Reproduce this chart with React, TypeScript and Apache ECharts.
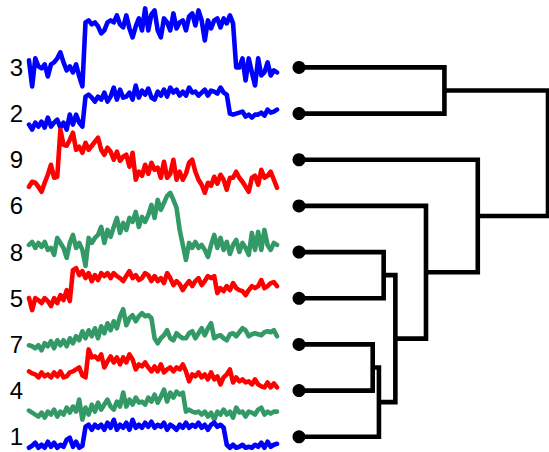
import React, { useEffect, useRef } from "react";
import * as echarts from "echarts";

// Row labels, top to bottom (also dendrogram leaf order)
const LABELS = ["3", "2", "9", "6", "8", "5", "7", "4", "1"];
const SERIES_COLORS = ["#0000ff", "#0000ff", "#ff0000", "#339966", "#ff0000", "#339966", "#ff0000", "#339966", "#0000ff"];

// Signal values (relative to each row's baseline), one per time step
const S3 = [7, -19, 9, 1, -1, 3, -9, 3, 5, 9, 15, 5, -3, 1, -5, 3, -9, -19, 45, 47, 43, 45, 41, 34, 37, 45, 47, 45, 52, 43, 40, 52, 39, 30, 41, 49, 37, 59, 37, 53, 57, 37, 30, 49, 45, 37, 54, 39, 45, 47, 37, 51, 54, 42, 57, 47, 27, 47, 39, 47, 49, 40, 49, 44, 52, 44, 0, 0, 9, -13, 9, -5, -18, 9, -8, -5, 5, -8, -3, -5];
const S2 = [-11, -16, -9, -13, -8, -14, -4, -13, -9, -6, -14, -9, -16, -1, -11, -1, -9, -13, 17, 19, 16, 12, 17, 14, 21, 12, 17, 26, 14, 24, 16, 17, 21, 14, 28, 16, 23, 19, 25, 16, 14, 22, 18, 24, 17, 26, 21, 24, 18, 22, 18, 26, 21, 22, 18, 21, 24, 18, 23, 22, 20, 26, 21, 19, 0, -1, 0, 1, 2, -3, -1, -4, -1, -1, 1, -2, 4, 1, 2, 4];
const S9 = [-27, -22, -23, -27, -32, -23, -15, -5, -18, -17, 30, 15, 14, 20, 27, 10, 13, 7, 17, 10, 14, 18, 22, 10, 5, 12, 8, 0, 8, -1, 3, 5, -7, 7, -20, -12, -16, -5, -14, -3, -10, -8, -18, -2, -18, -14, 0, -20, -12, -20, -14, -3, 0, -12, -20, -25, -33, -23, -26, -17, -24, -15, -20, -30, -18, -18, -12, -18, -22, -27, -32, -18, -16, -25, -10, -18, -16, -12, -20, -28];
const S6 = [-39, -36, -42, -37, -41, -36, -44, -42, -49, -32, -37, -42, -52, -37, -29, -42, -37, -44, -60, -32, -37, -32, -29, -21, -37, -24, -31, -21, -12, -27, -17, -24, -12, -16, -6, -21, -11, -16, -9, 1, -12, 6, -4, 3, 10, 13, 6, -2, -24, -39, -54, -37, -42, -36, -42, -39, -44, -51, -39, -29, -42, -32, -44, -36, -48, -39, -34, -46, -37, -42, -49, -27, -44, -26, -44, -24, -39, -44, -37, -39];
const S8 = [-46, -58, -46, -48, -51, -46, -49, -54, -46, -51, -43, -48, -38, -49, -18, -16, -23, -19, -26, -21, -29, -23, -28, -21, -24, -21, -26, -21, -24, -26, -29, -24, -19, -26, -23, -28, -26, -21, -23, -29, -24, -29, -26, -31, -21, -26, -33, -29, -32, -38, -33, -29, -34, -29, -26, -33, -29, -24, -26, -24, -41, -36, -39, -34, -38, -31, -36, -38, -39, -43, -38, -34, -36, -34, -28, -36, -34, -31, -30, -34];
const S5 = [-47, -48, -50, -47, -52, -45, -48, -43, -50, -42, -47, -42, -48, -40, -45, -38, -42, -33, -40, -32, -38, -30, -40, -28, -35, -25, -32, -23, -30, -18, -11, -27, -20, -17, -23, -18, -15, -18, -17, -20, -40, -45, -40, -37, -32, -40, -42, -35, -38, -40, -40, -35, -33, -40, -35, -30, -37, -30, -25, -40, -38, -37, -40, -42, -36, -35, -38, -34, -30, -32, -38, -36, -35, -36, -37, -34, -33, -34, -32, -38];
const S7 = [-27, -29, -30, -33, -28, -32, -30, -33, -28, -32, -27, -33, -32, -28, -27, -25, -23, -31, -33, -5, -13, -12, -15, -10, -23, -17, -12, -18, -13, -20, -13, -18, -10, -15, -25, -20, -22, -18, -23, -27, -22, -27, -20, -28, -25, -23, -27, -23, -25, -20, -27, -37, -30, -32, -28, -33, -30, -35, -28, -35, -32, -40, -33, -30, -25, -38, -33, -37, -35, -38, -37, -40, -35, -40, -42, -43, -38, -43, -39, -43];
const S4 = [-20, -22, -24, -26, -22, -27, -21, -24, -19, -26, -21, -24, -17, -22, -16, -21, -9, -29, -17, -24, -14, -21, -12, -19, -14, -9, -16, -19, -11, -16, -2, -16, -9, -14, -7, -12, -11, -14, -7, -11, -4, -12, -6, 1, -11, -2, -7, -1, -4, -2, -21, -19, -21, -22, -21, -24, -21, -26, -22, -29, -21, -24, -19, -24, -21, -27, -17, -22, -21, -26, -21, -22, -24, -19, -17, -24, -21, -23, -21, -21];
const S1 = [-11, -9, -6, -11, -8, -11, -5, -10, -6, -11, -8, -10, -3, -1, -10, -5, -11, -9, 10, 12, 7, 12, 9, 12, 7, 14, 9, 17, 7, 12, 9, 14, 7, 17, 9, 12, 9, 14, 10, 15, 9, 12, 10, 14, 7, 12, 10, 7, 12, 9, 14, 9, 12, 10, 14, 9, 12, 7, 12, 14, 10, 12, 9, -8, -11, -8, -11, -10, -8, -11, -10, -11, -8, -10, -6, -11, -5, -10, -8, -7];

const SIGNALS = [S3, S2, S9, S6, S8, S5, S7, S4, S1];
const SIGNAL_PER_ROW = 46.17;

// Dendrogram merges: [node, left child, right child, height]
const MERGES: [string, string, string, number][] = [
  ["A", "3", "2", 5.84],
  ["B", "8", "5", 3.4],
  ["C", "7", "4", 2.96],
  ["D", "C", "1", 3.21],
  ["E", "B", "D", 3.87],
  ["F", "6", "E", 5.1],
  ["G", "9", "F", 7.18],
  ["R", "A", "G", 10],
];
const TREE_MAX = 10;

const Y_MIN = -0.33;
const Y_MAX = 9.46;

export default function App() {
  const ref = useRef<HTMLDivElement>(null);
  useEffect(() => {
    if (!ref.current) return;
    const chart = echarts.init(ref.current, undefined, { renderer: "svg" });
    const n = LABELS.length;
    const rowOf = (i: number) => n - 1 - i;

    const lineSeries = SIGNALS.map((sig, i) => ({
      type: "line",
      name: LABELS[i],
      xAxisIndex: 0,
      yAxisIndex: 0,
      showSymbol: false,
      symbol: "none",
      clip: false,
      data: sig.map((v, k) => [k, rowOf(i) + v / SIGNAL_PER_ROW]),
      lineStyle: { color: SERIES_COLORS[i], width: 4.6, join: "round", cap: "round" },
      itemStyle: { color: SERIES_COLORS[i] },
      z: 2,
    }));

    const pos: Record<string, { y: number; h: number }> = {};
    LABELS.forEach((l, i) => (pos[l] = { y: rowOf(i), h: 0 }));
    const treeSeries: any[] = [];
    MERGES.forEach(([node, a, b, h]) => {
      const pa = pos[a];
      const pb = pos[b];
      pos[node] = { y: (pa.y + pb.y) / 2, h };
      treeSeries.push({
        type: "line",
        xAxisIndex: 1,
        yAxisIndex: 1,
        symbol: "none",
        showSymbol: false,
        clip: false,
        data: [
          [pa.h, pa.y],
          [h, pa.y],
          [h, pb.y],
          [pb.h, pb.y],
        ],
        lineStyle: { color: "#000", width: 4.6, join: "miter", cap: "butt" },
        z: 3,
      });
    });

    const leafSeries = {
      type: "scatter",
      xAxisIndex: 1,
      yAxisIndex: 1,
      clip: false,
      symbolSize: 13,
      itemStyle: { color: "#000", opacity: 1 },
      data: LABELS.map((_, i) => [0, rowOf(i)]),
      z: 5,
    };

    const seriesLen = S3.length;
    chart.setOption({
      animation: false,
      backgroundColor: "#fff",
      grid: [
        { left: 29, right: 272, top: 0, bottom: 0 },
        { left: 299, right: 1, top: 0, bottom: 0 },
      ],
      xAxis: [
        { type: "value", gridIndex: 0, min: 0, max: seriesLen - 1, show: false },
        { type: "value", gridIndex: 1, min: 0, max: TREE_MAX, show: false },
      ],
      yAxis: [
        {
          type: "value",
          gridIndex: 0,
          min: Y_MIN,
          max: Y_MAX,
          axisLine: { show: false },
          axisTick: { show: false },
          splitLine: { show: false },
          axisLabel: {
            customValues: LABELS.map((_, i) => rowOf(i)),
            formatter: (v: number) => LABELS[n - 1 - Math.round(v)],
            fontSize: 24,
            color: "#000",
            fontFamily: "Liberation Sans, Arial, sans-serif",
            margin: 6,
            padding: [10, 0, 0, 0],
          },
        },
        { type: "value", gridIndex: 1, min: Y_MIN, max: Y_MAX, show: false },
      ],
      series: [...lineSeries, ...treeSeries, leafSeries],
    } as any);
    return () => chart.dispose();
  }, []);
  return (
    <div
      ref={ref}
      style={{ position: "fixed", left: 0, top: 0, width: 549, height: 452, background: "#fff" }}
    />
  );
}
